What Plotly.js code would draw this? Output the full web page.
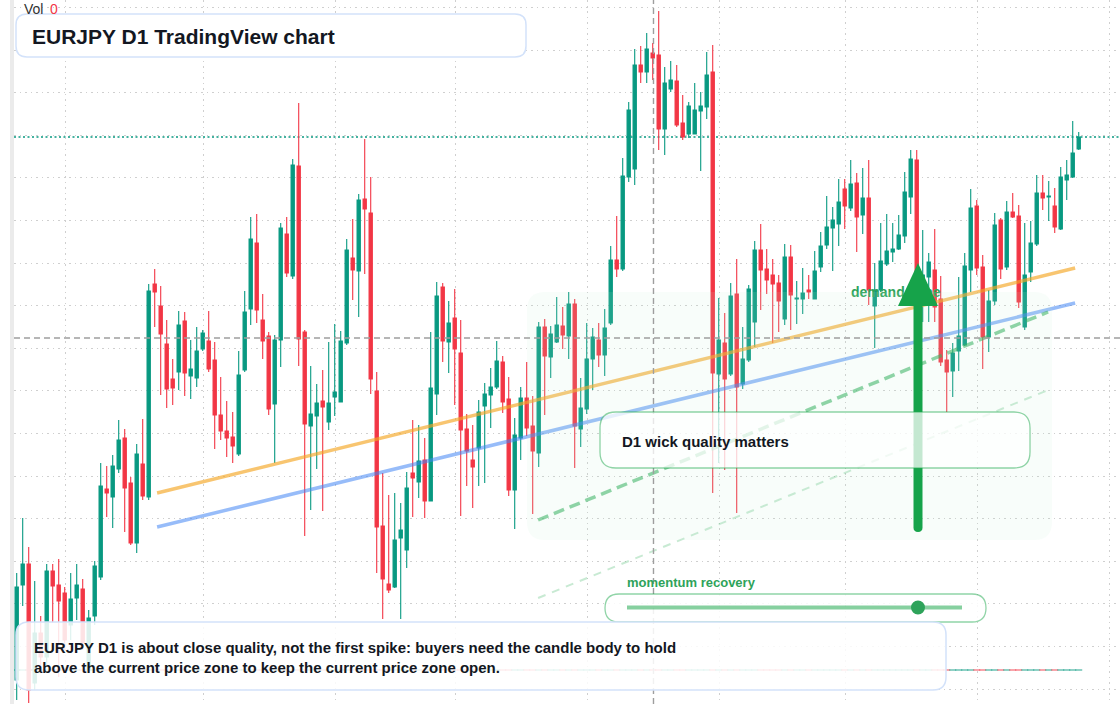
<!DOCTYPE html>
<html>
<head>
<meta charset="utf-8">
<script src="https://cdn.plot.ly/plotly-3.0.1.min.js"></script>
<style>html,body{margin:0;padding:0;background:#fff;}#chart{width:1120px;height:704px;}</style>
</head>
<body>
<div id="chart"></div>
<script>
// ---- EURJPY D1 daily candles ----
const open = [157.20,158.15,158.36,157.17,157.67,157.43,158.29,158.15,158.07,157.75,
158.02,158.11,157.30,157.84,158.23,159.11,159.03,159.31,159.62,159.17,
158.57,159.36,159.03,161.16,160.94,160.56,160.21,160.28,160.79,160.24,
160.22,160.51,160.59,160.40,159.85,159.69,159.63,159.46,160.30,160.91,
161.57,160.80,160.64,159.96,160.60,161.66,161.24,162.34,160.68,159.74,
159.84,159.99,159.78,160.03,159.98,160.57,161.42,161.29,162.01,161.87,
160.09,158.74,158.16,158.13,158.62,158.50,159.27,159.18,159.40,158.99,
160.06,161.13,160.58,160.82,160.47,159.71,159.40,159.52,159.94,160.05,
160.13,160.38,160.01,159.10,159.62,160.02,159.74,159.47,160.73,160.43,
160.58,160.74,160.64,160.96,159.71,159.91,160.41,160.60,160.45,160.77,
161.40,161.31,162.23,162.31,163.35,163.28,163.47,163.45,162.71,163.11,
163.19,162.77,162.66,162.66,162.89,162.93,163.28,160.26,160.57,160.26,
161.06,160.16,160.40,160.78,161.50,161.31,161.25,161.17,160.81,161.43,
161.01,161.01,161.10,161.01,161.33,161.55,161.72,161.76,162.11,161.92,
162.17,161.85,162.02,160.94,161.10,161.36,161.48,161.51,161.64,162.03,
162.40,161.08,161.23,161.30,161.01,160.40,160.29,160.49,160.55,161.30,
161.94,161.33,160.63,160.99,161.80,161.33,161.88,161.84,160.73,161.28,
161.56,162.07,162.03,161.94,161.71,162.20,162.23,162.51];
const high = [158.27,158.82,158.53,158.19,157.84,158.36,158.36,158.41,158.13,158.27,
158.36,158.21,157.90,158.39,159.37,159.34,159.45,159.80,159.71,159.23,
159.56,159.81,161.16,161.31,161.14,160.80,160.41,160.89,160.88,160.60,
160.73,160.70,160.89,160.58,160.23,159.99,159.88,160.49,161.09,161.83,
161.86,161.06,160.68,160.65,161.77,161.83,162.41,162.97,160.70,160.34,
160.16,160.30,160.58,160.76,160.69,161.61,161.81,162.06,162.61,162.23,
160.28,159.27,159.05,159.07,158.97,159.28,159.80,159.75,159.62,160.68,
161.18,161.17,160.99,161.11,160.80,159.86,159.75,160.00,160.17,160.32,
160.59,160.44,160.23,159.82,160.13,160.38,160.04,160.78,160.81,160.74,
161.03,160.93,161.08,161.01,160.22,160.77,160.72,160.77,160.91,161.54,
161.84,162.42,162.98,163.51,163.54,163.67,163.57,163.89,163.33,163.39,
163.35,163.05,162.98,163.17,163.08,163.48,163.55,161.02,160.87,161.17,
161.41,160.73,161.15,161.59,161.76,161.51,161.41,161.25,161.56,161.55,
161.19,161.32,161.25,161.49,161.68,162.04,161.93,162.21,162.21,162.40,
162.27,162.32,162.40,161.37,161.77,161.86,161.77,161.85,162.28,162.50,
162.50,161.70,161.47,161.71,161.24,160.50,160.57,161.23,161.47,162.11,
162.00,161.45,161.10,161.87,161.82,161.99,162.07,161.95,161.77,161.79,
162.25,162.25,162.19,162.12,162.33,162.40,162.79,162.68];
const low = [157.00,157.94,156.97,157.10,157.35,157.35,157.77,157.23,157.50,157.60,
157.80,157.50,157.28,157.75,158.20,158.83,158.72,159.27,158.68,158.55,
158.47,159.00,159.00,160.73,160.05,159.92,159.95,160.10,160.04,160.01,
160.13,160.49,160.28,159.51,159.60,159.43,159.37,159.44,160.28,160.75,
160.77,160.41,159.85,159.37,160.33,161.23,161.21,160.34,158.64,158.90,
159.31,158.89,159.70,159.84,159.98,160.55,161.00,160.83,161.26,160.06,
158.27,157.81,158.07,158.12,157.81,158.32,158.83,159.02,158.82,158.99,
159.85,160.38,160.27,159.95,158.84,159.14,158.92,159.14,159.17,159.72,
160.11,159.87,159.04,158.71,159.40,159.64,158.86,159.33,159.85,160.22,
160.57,160.51,160.41,159.32,159.53,159.86,160.10,160.33,160.24,160.75,
161.23,161.29,162.18,162.15,163.17,163.17,163.20,162.50,162.45,163.08,
162.73,162.60,162.62,162.66,162.29,162.81,159.07,159.37,159.30,160.24,
158.87,160.11,160.38,160.53,160.90,161.06,160.57,160.68,160.75,160.70,
160.76,160.86,161.01,161.01,161.28,161.51,161.29,161.54,161.71,161.89,
161.48,161.66,160.95,160.52,161.08,161.34,161.38,161.50,161.57,161.86,
160.95,160.78,160.78,160.78,160.34,159.88,160.03,160.29,160.54,161.08,
161.25,160.31,160.48,160.95,161.21,161.30,161.82,160.92,160.70,161.18,
161.54,161.90,161.79,161.67,161.70,162.00,162.22,162.50];
const close = [158.13,158.36,157.10,157.67,157.43,158.29,158.14,157.99,157.60,158.01,
158.15,157.57,157.82,158.34,159.14,159.07,159.34,159.60,159.12,158.57,
159.46,159.04,161.09,161.08,160.66,160.11,160.12,160.75,160.27,160.31,
160.49,160.67,160.31,159.85,159.69,159.62,159.54,160.25,160.88,161.61,
160.90,160.59,159.91,160.60,161.72,161.27,162.35,160.61,159.76,159.86,
159.97,159.93,159.97,160.08,160.59,161.50,161.30,162.00,161.91,160.21,
158.73,158.21,158.10,158.60,158.70,159.12,159.22,159.39,158.99,160.12,
161.04,160.59,160.77,160.51,159.70,159.49,159.33,159.88,160.06,160.13,
160.39,159.98,159.10,159.65,160.02,159.72,159.49,160.73,160.44,160.66,
160.75,160.65,160.96,159.74,159.92,160.41,160.63,160.45,160.72,161.40,
161.31,162.24,162.90,163.35,163.28,163.51,163.42,162.71,163.17,163.20,
162.75,162.63,162.94,162.90,162.94,163.25,160.27,160.60,160.21,161.04,
160.13,160.41,161.11,161.50,161.30,161.20,161.16,160.99,161.43,161.05,
161.02,161.07,161.08,161.29,161.54,161.73,161.80,161.98,161.94,162.16,
161.83,162.02,161.10,161.10,161.39,161.49,161.51,161.65,162.08,162.41,
161.00,161.25,161.38,160.93,160.38,160.28,160.47,160.64,161.34,161.92,
161.32,160.63,160.99,161.75,161.31,161.88,161.83,160.98,161.25,161.57,
162.07,162.02,162.04,161.73,162.23,162.25,162.47,162.63];
const volume = close.map(() => 0);           // "Vol 0"
const days = close.map((_, i) => i);         // trading-day index

// month boundaries (vertical grid), in trading-day index
const monthTicks = [8.17, 31.1, 53.17, 73.1, 95.17, 117.1, 138.17, 160.17, 182.17];

// drawn trend lines: [dayIndex, price] endpoints
const resistLine = {x: [23.4, 176.4], y: [159.07, 161.32]};
const supportLine = {x: [23.4, 176.4], y: [158.73, 160.97]};
const channelUpper = {x: [86.9, 171.9], y: [158.80, 160.88]};
const channelLower = {x: [86.9, 171.9], y: [158.02, 160.10]};
const crosshair = {x: 106.13, y: 160.62};
const demandLabel = {x: 139.05, y: 161.07, text: 'demand zone'};

// texts
const titleText = 'EURJPY D1 TradingView chart';
const noteText = 'EURJPY D1 is about close quality, not the first spike: buyers need the candle body to hold<br>above the current price zone to keep the current price zone open.';
const wickText = 'D1 wick quality matters';
const momentumText = 'momentum recovery';

// ---- layout helpers (pixel -> paper) ----
const PL = 14, PW = 1106, PH = 704;
const px = x => (x - PL) / PW;
const py = y => 1 - y / PH;
const P = (x, y) => px(x).toFixed(5) + ',' + py(y).toFixed(5);
function rr(x0, y0, x1, y1, r) {
  return `M${P(x0 + r, y0)} L${P(x1 - r, y0)} Q${P(x1, y0)} ${P(x1, y0 + r)} L${P(x1, y1 - r)} Q${P(x1, y1)} ${P(x1 - r, y1)} L${P(x0 + r, y1)} Q${P(x0, y1)} ${P(x0, y1 - r)} L${P(x0, y0 + r)} Q${P(x0, y0)} ${P(x0 + r, y0)} Z`;
}
const UP = '#089981', DN = '#f23645';
const FONT = 'Liberation Sans, Arial, Helvetica, sans-serif';
const GREEN = '#2ea35a';

const traces = [
  {
    type: 'candlestick', x: days, open: open, high: high, low: low, close: close,
    increasing: {line: {color: UP, width: 1.1}, fillcolor: UP},
    decreasing: {line: {color: DN, width: 1.1}, fillcolor: DN},
    whiskerwidth: 0, hoverinfo: 'skip', showlegend: false
  },
  {
    type: 'scatter', mode: 'markers', x: days, y: volume, yaxis: 'y2',
    marker: {symbol: 'line-ew', size: 5,
      line: {width: 2, color: close.map((c, i) => c >= open[i] ? 'rgba(8,153,129,0.45)' : 'rgba(242,54,69,0.45)')}},
    hoverinfo: 'skip', showlegend: false
  },
  {type: 'scatter', mode: 'lines', x: resistLine.x, y: resistLine.y,
   line: {color: 'rgba(245,166,35,0.65)', width: 3.5}, hoverinfo: 'skip', showlegend: false},
  {type: 'scatter', mode: 'lines', x: supportLine.x, y: supportLine.y,
   line: {color: 'rgba(66,133,244,0.55)', width: 3.5}, hoverinfo: 'skip', showlegend: false},
  {type: 'scatter', mode: 'lines', x: channelUpper.x, y: channelUpper.y,
   line: {color: 'rgba(34,170,80,0.55)', width: 3.5, dash: '11px,6px'}, hoverinfo: 'skip', showlegend: false},
  {type: 'scatter', mode: 'lines', x: channelLower.x, y: channelLower.y,
   line: {color: 'rgba(34,170,80,0.25)', width: 2, dash: '8px,7px'}, hoverinfo: 'skip', showlegend: false},
  {type: 'scatter', mode: 'text', x: [demandLabel.x], y: [demandLabel.y], text: ['<b>' + demandLabel.text + '</b>'],
   textposition: 'middle right', textfont: {family: FONT, size: 14, color: GREEN},
   hoverinfo: 'skip', showlegend: false}
];

const shapes = [
  // left strip
  {type: 'rect', xref: 'paper', yref: 'paper', x0: -4 / PW, x1: 0, y0: 0, y1: 1,
   fillcolor: '#ebebeb', line: {width: 0}, layer: 'below'},
  // last close line
  {type: 'line', xref: 'paper', yref: 'y', x0: 0, x1: 1, y0: close[close.length - 1], y1: close[close.length - 1],
   line: {color: UP, width: 1.5, dash: '2px,2.5px'}, layer: 'below'},
  // demand zone
  {type: 'path', xref: 'paper', yref: 'paper', path: rr(527, 292, 1052, 540, 18),
   fillcolor: 'rgba(200,242,214,0.12)', line: {width: 0}, layer: 'above'},
  // crosshair
  {type: 'line', xref: 'x', yref: 'paper', x0: crosshair.x, x1: crosshair.x, y0: 0, y1: 1,
   line: {color: '#9e9e9e', width: 1.4, dash: '6px,4px'}, layer: 'above'},
  {type: 'line', xref: 'paper', yref: 'y', x0: 0, x1: 1, y0: crosshair.y, y1: crosshair.y,
   line: {color: '#9e9e9e', width: 1.4, dash: '6px,4px'}, layer: 'above'},
  // arrow
  {type: 'path', xref: 'paper', yref: 'paper',
   path: `M${P(913.5, 300)} L${P(922.5, 300)} L${P(922.5, 527.5)} Q${P(922.5, 532)} ${P(918, 532)} Q${P(913.5, 532)} ${P(913.5, 527.5)} Z`,
   fillcolor: '#16a34a', line: {width: 0}, layer: 'above'},
  {type: 'path', xref: 'paper', yref: 'paper', path: `M${P(898, 306)} L${P(938, 306)} L${P(918, 263)} Z`,
   fillcolor: '#16a34a', line: {width: 0}, layer: 'above'},
  // wick quality box
  {type: 'path', xref: 'paper', yref: 'paper', path: rr(600, 412, 1030, 468, 16),
   fillcolor: 'rgba(255,255,255,0.75)', line: {color: 'rgba(34,170,80,0.5)', width: 1.3}, layer: 'above'},
  // title box
  {type: 'path', xref: 'paper', yref: 'paper', path: rr(16, 14, 526, 57, 11),
   fillcolor: '#ffffff', line: {color: '#d3e2fa', width: 1.5}, layer: 'above'},
  // momentum slider
  {type: 'path', xref: 'paper', yref: 'paper', path: rr(605, 594, 986, 622, 14),
   fillcolor: 'rgba(255,255,255,0.85)', line: {color: 'rgba(34,170,80,0.5)', width: 1.3}, layer: 'above'},
  {type: 'line', xref: 'paper', yref: 'paper', x0: px(627), x1: px(962), y0: py(607.5), y1: py(607.5),
   line: {color: 'rgba(34,170,80,0.55)', width: 4}, layer: 'above'},
  {type: 'circle', xref: 'paper', yref: 'paper', x0: px(911), x1: px(925), y0: py(600.5), y1: py(614.5),
   fillcolor: '#2ea35a', line: {width: 0}, layer: 'above'},
  // bottom note box
  {type: 'path', xref: 'paper', yref: 'paper', path: rr(16, 622, 946, 690, 13),
   fillcolor: 'rgba(255,255,255,0.86)', line: {color: '#d3e2fa', width: 1.5}, layer: 'above'}
];

const annotations = [
  {xref: 'paper', yref: 'paper', x: px(22), y: py(8.5), xanchor: 'left', yanchor: 'middle', showarrow: false,
   text: 'Vol', font: {family: FONT, size: 14, color: '#333333'}},
  {xref: 'paper', yref: 'paper', x: px(47.5), y: py(8.5), xanchor: 'left', yanchor: 'middle', showarrow: false,
   text: '0', font: {family: FONT, size: 14, color: DN}},
  {xref: 'paper', yref: 'paper', x: px(30), y: py(36), xanchor: 'left', yanchor: 'middle', showarrow: false,
   text: '<b>' + titleText + '</b>', font: {family: FONT, size: 21, color: '#131722'}},
  {xref: 'paper', yref: 'paper', x: px(620), y: py(441), xanchor: 'left', yanchor: 'middle', showarrow: false,
   text: '<b>' + wickText + '</b>', font: {family: FONT, size: 15, color: '#131722'}},
  {xref: 'paper', yref: 'paper', x: px(625), y: py(582), xanchor: 'left', yanchor: 'middle', showarrow: false,
   text: '<b>' + momentumText + '</b>', font: {family: FONT, size: 13, color: GREEN}},
  {xref: 'paper', yref: 'paper', x: px(32), y: py(657), xanchor: 'left', yanchor: 'middle', align: 'left', showarrow: false,
   text: '<b>' + noteText + '</b>', font: {family: FONT, size: 15, color: '#131722'}}
];

const layout = {
  width: 1120, height: 704,
  margin: {l: PL, r: 0, t: 0, b: 0, pad: 0},
  paper_bgcolor: '#ffffff', plot_bgcolor: '#ffffff',
  showlegend: false, hovermode: false,
  boxgap: 0.22,
  xaxis: {range: [-0.45, 183.88], tickmode: 'array', tickvals: monthTicks, showticklabels: false,
          ticks: '', showgrid: true, gridcolor: '#cfcfcf', gridwidth: 1, griddash: '1.5px,4px',
          zeroline: false, showline: false, rangeslider: {visible: false}, fixedrange: true},
  yaxis: {range: [156.96, 164.00], tick0: 160.517, dtick: 0.426, showticklabels: false, ticks: '',
          showgrid: true, gridcolor: '#cfcfcf', gridwidth: 1, griddash: '1.5px,4px',
          zeroline: false, showline: false, fixedrange: true},
  yaxis2: {overlaying: 'y', range: [-1, 19.7], visible: false, fixedrange: true},
  shapes: shapes,
  annotations: annotations
};

Plotly.newPlot('chart', traces, layout, {displayModeBar: false, staticPlot: true});
</script>
</body>
</html>
